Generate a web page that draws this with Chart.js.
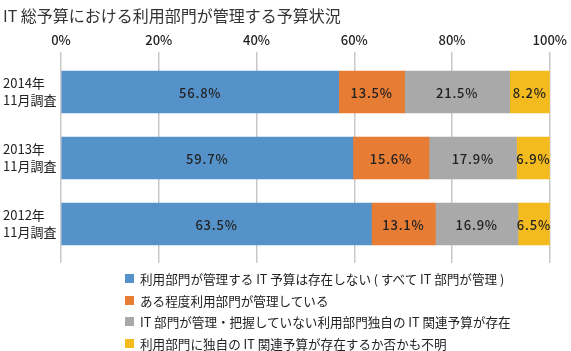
<!DOCTYPE html>
<html lang="ja">
<head>
<meta charset="utf-8">
<script src="https://cdn.jsdelivr.net/npm/chart.js@4.4.1/dist/chart.umd.min.js"></script>
<style>
  body { margin: 0; background: #fff; }
  #wrap { position: relative; width: 571px; height: 351px; }
  #legend { position: absolute; left: 125px; top: 268px; font-family: "Noto Sans CJK JP", "Noto Sans", sans-serif; font-size: 12.6px; color: #222; }
  #legend div { height: 21.6px; line-height: 21.6px; display: flex; align-items: center; }
  #legend span.box { width: 9px; height: 9px; margin-right: 6px; display: inline-block; }
</style>
</head>
<body>
<div id="wrap">
  <canvas id="chart" width="571" height="351"></canvas>
  <div id="legend"></div>
</div>
<script>
const categories = [["2014年", "11月調査"], ["2013年", "11月調査"], ["2012年", "11月調査"]];
const seriesNames = [
  "利用部門が管理する IT 予算は存在しない ( すべて IT 部門が管理 )",
  "ある程度利用部門が管理している",
  "IT 部門が管理・把握していない利用部門独自の IT 関連予算が存在",
  "利用部門に独自の IT 関連予算が存在するか否かも不明"
];
const noneManaged = [56.8, 59.7, 63.5];
const partlyManaged = [13.5, 15.6, 13.1];
const unknownToIT = [21.5, 17.9, 16.9];
const notKnown = [8.2, 6.9, 6.5];
const seriesColors = ["#5592ca", "#e77c34", "#a9a9a9", "#f4bb1e"];
const tickValues = [0, 20, 40, 60, 80, 100];

const fontFamily = '"Noto Sans CJK JP", "Noto Sans", sans-serif';

// labels in the middle of each bar segment
const barLabels = {
  id: 'barLabels',
  afterDatasetsDraw(chart) {
    const ctx = chart.ctx;
    ctx.save();
    ctx.font = '500 13px ' + fontFamily;
    ctx.letterSpacing = '0.8px';
    ctx.fillStyle = '#222';
    ctx.textAlign = 'center';
    ctx.textBaseline = 'middle';
    chart.data.datasets.forEach((ds, i) => {
      chart.getDatasetMeta(i).data.forEach((bar, j) => {
        ctx.fillText(ds.data[j].toFixed(1) + '%', (bar.x + bar.base) / 2, bar.y + 1);
      });
    });
    ctx.restore();
  }
};

const values = [noneManaged, partlyManaged, unknownToIT, notKnown];

const chart = new Chart(document.getElementById('chart'), {
  type: 'bar',
  data: {
    labels: categories,
    datasets: values.map((v, i) => ({
      label: seriesNames[i],
      data: v,
      backgroundColor: seriesColors[i],
      borderWidth: 0,
      barThickness: 42
    }))
  },
  options: {
    indexAxis: 'y',
    responsive: false,
    animation: false,
    layout: { padding: { left: 3, right: 21, top: 0, bottom: 88 } },
    scales: {
      x: {
        position: 'top',
        stacked: true,
        min: 0,
        max: 100,
        afterBuildTicks: axis => { axis.ticks = tickValues.map(v => ({ value: v })); },
        afterFit: axis => { axis.height = 33.8; },
        grid: { color: '#c8c8c8', lineWidth: 1.5, tickLength: 7, drawTicks: true },
        border: { display: false },
        ticks: {
          padding: 4,
          color: '#222',
          font: { family: fontFamily, size: 13, weight: '500' },
          callback: v => v + '%'
        }
      },
      x2: {
        position: 'bottom',
        axis: 'x',
        min: 0,
        max: 100,
        afterBuildTicks: axis => { axis.ticks = tickValues.map(v => ({ value: v })); },
        afterFit: axis => { axis.height = 6; },
        grid: { color: '#c8c8c8', lineWidth: 1.5, tickLength: 6, drawOnChartArea: false },
        border: { display: false },
        ticks: { display: false }
      },
      y: {
        stacked: true,
        afterFit: axis => { axis.width = 58; },
        grid: { display: false },
        border: { display: false },
        ticks: {
          crossAlign: 'far',
          padding: 0,
          color: '#222',
          font: { family: fontFamily, size: 13, lineHeight: 1.3 }
        }
      }
    },
    plugins: {
      legend: { display: false },
      tooltip: { enabled: false },
      title: {
        display: true,
        text: 'IT 総予算における利用部門が管理する予算状況',
        align: 'start',
        color: '#333',
        font: { family: fontFamily, size: 16, weight: 'normal' },
        padding: { top: 6, bottom: 0 }
      }
    }
  },
  plugins: [barLabels]
});

document.getElementById('legend').innerHTML = chart.data.datasets.map(ds =>
  `<div><span class="box" style="background:${ds.backgroundColor}"></span>${ds.label}</div>`
).join('');
</script>
</body>
</html>
